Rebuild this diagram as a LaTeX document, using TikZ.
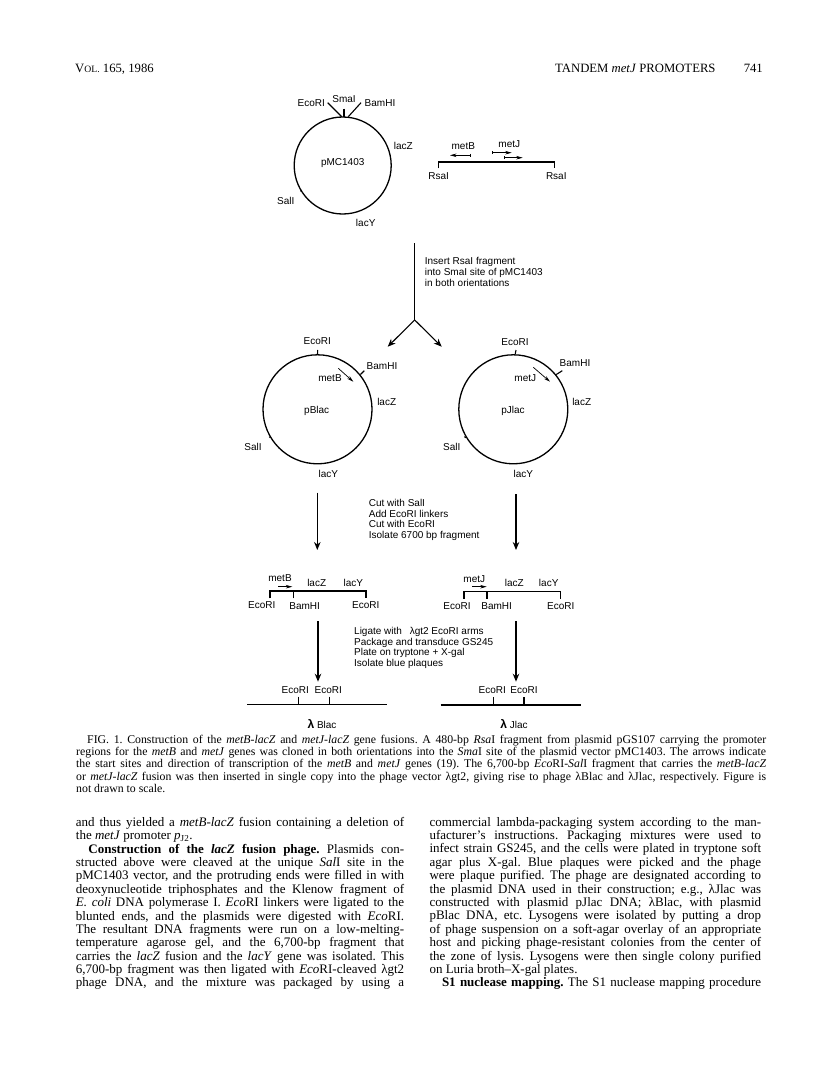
\documentclass[tikz,border=0pt]{standalone}
\usepackage{fontspec}
\usetikzlibrary{arrows.meta}
\setmainfont{Liberation Serif}
\setsansfont{Liberation Sans}
\frenchspacing
\tikzset{
  lbl/.style={font=\sffamily\fontsize{10}{10.7}\selectfont,inner sep=0pt},
  steps/.style={lbl,anchor=north west,align=left},
  head/.style={anchor=north west,inner sep=0pt,font=\fontsize{12.7}{14}\selectfont},
  ring/.style={circle,draw,line width=1.3pt,inner sep=0pt},
  tick/.style={line width=1.1pt},
  dna/.style={line width=1.3pt},
  flow/.style={line width=1.1pt,-{Stealth[length=8pt,width=6.5pt]}},
  gene/.style={line width=0.7pt,-{Stealth[length=6.5pt,width=3.5pt]}},
  column/.style={anchor=north west,inner sep=0pt,align=justify,font=\fontsize{13}{13.38}\selectfont}
}
\newcommand{\fullline}[1]{\noindent\hbox to \hsize{#1}\par}
\newcommand{\lastline}[1]{\noindent\hbox to \hsize{#1\hfil}\par}
\begin{document}
\begin{tikzpicture}[x=1pt,y=-1pt]
      \useasboundingbox (0,0) rectangle (816,1073);
      % page header
      \draw
        (75,64) node[head] (head1){V{\fontsize{9.7}{12}\selectfont OL.} 165, 1986}
        (555,64) node[head] (head2){TANDEM \textit{metJ} PROMOTERS}
        (763,64) node[head,anchor=north east] (head3){741};
      % plasmids
      \draw
        (342.7,165.5) node[ring,minimum size=97pt] (pmc){}
        (317.5,409.3) node[ring,minimum size=109pt] (pb){}
        (513.3,409.3) node[ring,minimum size=109pt] (pj){};
      \draw
        (342.7,162.7) node[lbl] (pmcname){pMC1403}
        (311.3,102.7) node[lbl] (pmceco){EcoRI}
        (344,99.3) node[lbl] (pmcsma){SmaI}
        (380,103) node[lbl] (pmcbam){BamHI}
        (403.3,145.7) node[lbl] (pmcz){lacZ}
        (285.7,201.3) node[lbl] (pmcsal){SalI}
        (365.7,222.7) node[lbl] (pmcy){lacY}
        (316.7,410.7) node[lbl] (pbname){pBlac}
        (317.3,341) node[lbl] (pbeco){EcoRI}
        (382,366.3) node[lbl] (pbbam){BamHI}
        (330,378.3) node[lbl] (pbmet){metB}
        (386.7,401.7) node[lbl] (pbz){lacZ}
        (253,447.3) node[lbl] (pbsal){SalI}
        (328.3,474) node[lbl] (pby){lacY}
        (513,411) node[lbl] (pjname){pJlac}
        (515,341.7) node[lbl] (pjeco){EcoRI}
        (575,362.7) node[lbl] (pjbam){BamHI}
        (525.3,378.3) node[lbl] (pjmet){metJ}
        (581.7,401.7) node[lbl] (pjz){lacZ}
        (451.7,447.3) node[lbl] (pjsal){SalI}
        (523.3,474) node[lbl] (pjy){lacY};
      \draw
        (327.7,102.7) coordinate (t1)
        (341.7,116.7) coordinate (t2)
        (344,108.5) coordinate (t3)
        (344,117) coordinate (t4)
        (361,102.7) coordinate (t5)
        (348.3,116.7) coordinate (t6)
        (301,190) coordinate (t7)
        (317.7,350) coordinate (t8)
        (364.3,370.7) coordinate (t9)
        (269.3,436.7) coordinate (t10)
        (516,350) coordinate (t11)
        (562.3,370.7) coordinate (t12)
        (464.3,436.7) coordinate (t13);
      \begin{scope}[tick]
        \draw (t1) to (t2);
        \draw (t3) to (t4);
        \draw (t5) to (t6);
        \draw (t7) to (pmc.212);
        \draw (t8) to (pb.90);
        \draw (t9) to (pb.39);
        \draw (t10) to (pb.211);
        \draw (t11) to (pj.88);
        \draw (t12) to (pj.39);
        \draw (t13) to (pj.211);
      \end{scope}
      % promoter arrows
      \draw
        (470.7,155.3) coordinate (b1)
        (450,155.3) coordinate (b2)
        (491.7,152.7) coordinate (j1)
        (511.7,152.7) coordinate (j2)
        (504.3,157.7) coordinate (j3)
        (522.7,157.7) coordinate (j4)
        (338.3,368.3) coordinate (b3)
        (353.3,381.7) coordinate (b4)
        (533.3,367.3) coordinate (j5)
        (550,381.7) coordinate (j6)
        (278.3,586.7) coordinate (b5)
        (292.3,586.7) coordinate (b6)
        (472.3,586.7) coordinate (j7)
        (486.7,586.7) coordinate (j8);
      \begin{scope}[gene]
        \draw[{Bar[width=3pt]}-{Stealth[length=6.5pt,width=3.5pt]}] (b1) to (b2);
        \draw[{Bar[width=3pt]}-{Stealth[length=6.5pt,width=3.5pt]}] (j1) to (j2);
        \draw[{Bar[width=3pt]}-{Stealth[length=6.5pt,width=3.5pt]}] (j3) to (j4);
        \draw (b3) to (b4);
        \draw (j5) to (j6);
        \draw (b5) to (b6);
        \draw (j7) to (j8);
      \end{scope}
      % RsaI fragment
      \draw
        (463.3,146) node[lbl] (fragb){metB}
        (509.3,144.3) node[lbl] (fragj){metJ}
        (438.7,176) node[lbl] (rsa1){RsaI}
        (556.3,176) node[lbl] (rsa2){RsaI}
        (438.3,168.3) coordinate (f1)
        (438.3,162) coordinate (f2)
        (554.7,162) coordinate (f3)
        (554.7,168.3) coordinate (f4);
      \draw[dna] (f1) to (f2) to (f3) to (f4);
      % pathway
      \draw
        (414.7,243) coordinate (a0)
        (414.7,320) coordinate (a1)
        (387.7,346.7) coordinate (a2)
        (441.7,346.7) coordinate (a3)
        (317.3,492.7) coordinate (a4)
        (317.3,550) coordinate (a5)
        (516,494) coordinate (a6)
        (516,550) coordinate (a7)
        (318,621) coordinate (a8)
        (318,681.7) coordinate (a9)
        (516,621) coordinate (a10)
        (516,681.7) coordinate (a11);
      \begin{scope}[flow]
        \draw[-] (a0) to (a1);
        \draw (a1) to (a2);
        \draw (a1) to (a3);
        \draw (a4) to (a5);
        \draw (a6) to (a7);
        \draw (a8) to (a9);
        \draw (a10) to (a11);
      \end{scope}
      \draw
        (424.7,257.5) node[steps] (step1){Insert RsaI fragment\\into SmaI site of pMC1403\\in both orientations}
        (368.7,499) node[steps] (step2){Cut with SalI\\Add EcoRI linkers\\Cut with EcoRI\\Isolate 6700 bp fragment}
        (354,627) node[steps] (step3){Ligate with \enspace λgt2 EcoRI arms\\Package and transduce GS245\\Plate on tryptone + X-gal\\Isolate blue plaques};
      % fusion fragments
      \draw
        (280,578.3) node[lbl] (lb){metB}
        (316.7,583.3) node[lbl] (lz){lacZ}
        (353.3,583.3) node[lbl] (ly){lacY}
        (261.7,605) node[lbl] (leco1){EcoRI}
        (304.7,605.7) node[lbl] (lbam){BamHI}
        (365.7,605) node[lbl] (leco2){EcoRI}
        (474.3,579.3) node[lbl] (rj){metJ}
        (514.3,583.3) node[lbl] (rz){lacZ}
        (548.7,583.3) node[lbl] (ry){lacY}
        (457,605.7) node[lbl] (reco1){EcoRI}
        (496.7,605.7) node[lbl] (rbam){BamHI}
        (560.7,605.7) node[lbl] (reco2){EcoRI}
        (270,598.3) coordinate (l1)
        (270,591) coordinate (l2)
        (293.3,598.3) coordinate (l3)
        (293.3,591) coordinate (l4)
        (366,591) coordinate (l5)
        (366,598.3) coordinate (l6)
        (464,598.7) coordinate (r1)
        (464,591.7) coordinate (r2)
        (487,598.7) coordinate (r3)
        (487,591.7) coordinate (r4)
        (560.7,591.7) coordinate (r5)
        (560.7,598.7) coordinate (r6);
      \begin{scope}[tick]
        \draw (l1) to (l2) to (l5) to (l6);
        \draw (l3) to (l4);
        \draw (r1) to (r2) to (r5) to (r6);
        \draw (r3) to (r4);
      \end{scope}
      % phage
      \draw
        (295.3,690.3) node[lbl] (beco1){EcoRI}
        (328.3,690.3) node[lbl] (beco2){EcoRI}
        (322,724.3) node[lbl] (bname){{\bfseries\fontsize{12}{12}\selectfont λ} Blac}
        (492.3,690.3) node[lbl] (jeco1){EcoRI}
        (524,690.3) node[lbl] (jeco2){EcoRI}
        (514,724.3) node[lbl] (jname){{\bfseries\fontsize{12}{12}\selectfont λ} Jlac}
        (247.3,704.3) coordinate (m1)
        (387.3,704.3) coordinate (m2)
        (298.3,696.7) coordinate (m3)
        (298.3,704.3) coordinate (m4)
        (329.3,696.7) coordinate (m5)
        (329.3,704.3) coordinate (m6)
        (440.7,705) coordinate (n1)
        (580.7,705) coordinate (n2)
        (493.3,697) coordinate (n3)
        (493.3,705) coordinate (n4)
        (524,697) coordinate (n5)
        (524,705) coordinate (n6);
      \begin{scope}[dna]
        \draw (m1) to (m2);
        \draw[tick] (m3) to (m4);
        \draw[tick] (m5) to (m6);
        \draw (n1) to (n2);
        \draw[tick] (n3) to (n4);
        \draw[tick] (n5) to (n6);
      \end{scope}
      % caption
      \draw (76,734.5) node[column,text width=690pt,font=\fontsize{11.8}{12.4}\selectfont] (caption){%
        \fullline{\hskip 11pt FIG. 1. Construction of the \textit{metB-lacZ} and \textit{metJ-lacZ} gene fusions. A 480-bp \textit{Rsa}I fragment from plasmid pGS107 carrying the promoter}%
        \fullline{regions for the \textit{metB} and \textit{metJ} genes was cloned in both orientations into the \textit{Sma}I site of the plasmid vector pMC1403. The arrows indicate}%
        \fullline{the start sites and direction of transcription of the \textit{metB} and \textit{metJ} genes (19). The 6,700-bp \textit{Eco}RI-\textit{Sal}I fragment that carries the \textit{metB-lacZ}}%
        \fullline{or \textit{metJ-lacZ} fusion was then inserted in single copy into the phage vector λgt2, giving rise to phage λBlac and λJlac, respectively. Figure is}%
        \lastline{not drawn to scale.}};
      % body text
      \draw (75.7,817) node[column,text width=328.3pt] (left){%
        \fullline{and thus yielded a \textit{metB-lacZ} fusion containing a deletion of}%
        \lastline{the \textit{metJ} promoter \textit{p}\textsubscript{J2}.}%
        \fullline{\hskip 12.5pt\textbf{Construction of the \textit{lacZ} fusion phage.} Plasmids con-}%
        \fullline{structed above were cleaved at the unique \textit{Sal}I site in the}%
        \fullline{pMC1403 vector, and the protruding ends were filled in with}%
        \fullline{deoxynucleotide triphosphates and the Klenow fragment of}%
        \fullline{\textit{E. coli} DNA polymerase I. \textit{Eco}RI linkers were ligated to the}%
        \fullline{blunted ends, and the plasmids were digested with \textit{Eco}RI.}%
        \fullline{The resultant DNA fragments were run on a low-melting-}%
        \fullline{temperature agarose gel, and the 6,700-bp fragment that}%
        \fullline{carries the \textit{lacZ} fusion and the \textit{lacY} gene was isolated. This}%
        \fullline{6,700-bp fragment was then ligated with \textit{Eco}RI-cleaved λgt2}%
        \fullline{phage DNA, and the mixture was packaged by using a}};
      \draw (429.3,817) node[column,text width=331.7pt] (right){%
        \fullline{commercial lambda-packaging system according to the man-}%
        \fullline{ufacturer's instructions. Packaging mixtures were used to}%
        \fullline{infect strain GS245, and the cells were plated in tryptone soft}%
        \fullline{agar plus X-gal. Blue plaques were picked and the phage}%
        \fullline{were plaque purified. The phage are designated according to}%
        \fullline{the plasmid DNA used in their construction; e.g., λJlac was}%
        \fullline{constructed with plasmid pJlac DNA; λBlac, with plasmid}%
        \fullline{pBlac DNA, etc. Lysogens were isolated by putting a drop}%
        \fullline{of phage suspension on a soft-agar overlay of an appropriate}%
        \fullline{host and picking phage-resistant colonies from the center of}%
        \fullline{the zone of lysis. Lysogens were then single colony purified}%
        \lastline{on Luria broth–X-gal plates.}%
        \fullline{\hskip 12.5pt\textbf{S1 nuclease mapping.} The S1 nuclease mapping procedure}};
    \end{tikzpicture}
\end{document}
